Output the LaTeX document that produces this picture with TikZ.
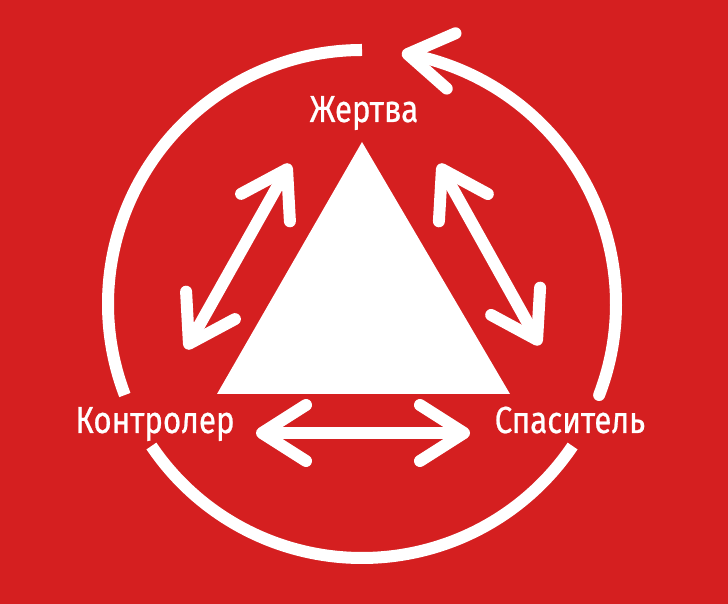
\documentclass[tikz,border=0pt]{standalone}
\usepackage{fontspec}
\newfontfamily\labelfont[FakeStretch=0.83, FakeBold=0.6]{Fira Sans}
\usetikzlibrary{arrows.meta, bending, calc}
\definecolor{bgred}{RGB}{213,31,32}

\begin{document}
\begin{tikzpicture}[x=1pt, y=1pt,
    ring/.style={white, line width=12pt},
    barb/.tip={Straight Barb[length=44pt, width=56pt, round]},
    twoway/.style={white, line width=12pt, line cap=round, barb-barb},
    role/.style={text=white, font=\labelfont\fontsize{37.7}{40}\selectfont, inner sep=0pt, anchor=base}]
    \fill [bgred] (0, 0) rectangle (728, 604);

    \coordinate (O) at (362, 300);
    \coordinate (Ta) at (362, 462);
    \coordinate (Tb) at (217, 210);
    \coordinate (Tc) at (510, 210);
    \fill [white] (Ta) -- (Tb) -- (Tc) -- cycle;

    \node [role] (Nv) at (364, 482) {Жертва};
    \node [role] (Nk) at (155, 171) {Контролер};
    \node [role] (Ns) at (570, 171) {Спаситель};

    \coordinate (La) at (290, 440);
    \coordinate (Lb) at (186, 255);
    \coordinate (Ra) at (439, 440);
    \coordinate (Rb) at (540, 259);
    \coordinate (Ba) at (256, 171);
    \coordinate (Bb) at (470, 171);

    \draw [twoway] (La) -- (Lb);
    \draw [twoway] (Ra) -- (Rb);
    \draw [twoway] (Ba) -- (Bb);

    \draw [ring] ([shift={(90:254)}]O) arc [start angle=90, end angle=201, radius=254];
    \draw [ring] ([shift={(214:254)}]O) arc [start angle=214, end angle=326, radius=254];
    \draw [ring, line cap=round, -barb] ([shift={(339:254)}]O) arc [start angle=339, end angle=441, radius=254];
\end{tikzpicture}
\end{document}
